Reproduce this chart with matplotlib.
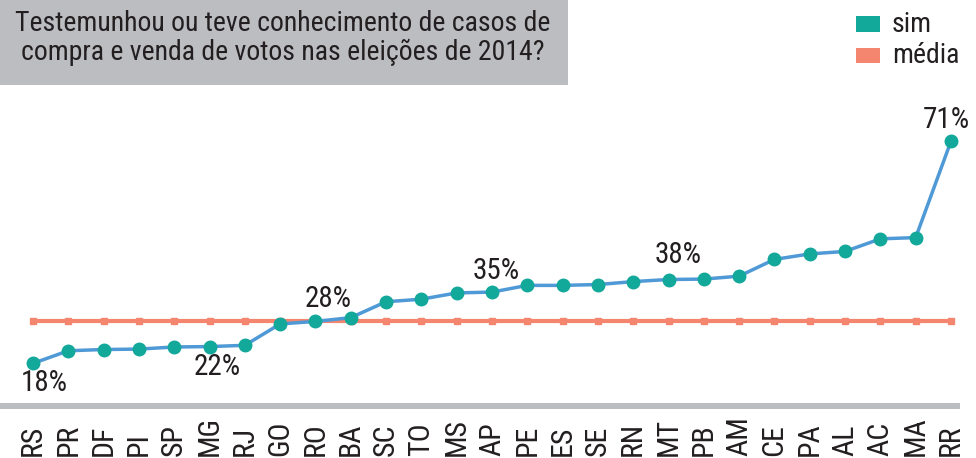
import matplotlib.pyplot as plt
import numpy as np

states = ["RS", "PR", "DF", "PI", "SP", "MG", "RJ", "GO", "RO", "BA", "SC", "TO", "MS", "AP",
          "PE", "ES", "SE", "RN", "MT", "PB", "AM", "CE", "PA", "AL", "AC", "MA", "RR"]
sim = [18, 21.0, 21.3, 21.4, 21.9, 22, 22.3, 27.4, 28, 28.9, 32.7, 33.3, 34.8, 35,
       36.6, 36.6, 36.8, 37.5, 38, 38.1, 38.8, 42.8, 44.1, 44.7, 47.7, 48.0, 71]
media = 28.2
labeled = ["RS", "MG", "RO", "AP", "MT", "RR"]

title = "Testemunhou ou teve conhecimento de casos de\ncompra e venda de votos nas eleições de 2014?"

teal = "#12a89a"
blue = "#4f9ad6"
salmon = "#f4866f"
gray = "#bcbdc1"
dark = "#231f20"
font = ["Roboto Condensed", "DejaVu Sans"]

# label offsets from the point, in pixels
lab_off = {"RS": (11, -20), "MG": (8, -20), "RO": (13, 22), "AP": (4, 21),
           "MT": (10, 25), "RR": (-5, 21)}

W, H = 976, 458
fig = plt.figure(figsize=(W / 100, H / 100), dpi=100)
ax = fig.add_axes([0, 0, 1, 1])
ax.set_axis_off()

# pixel mapping: x = 33 + 35.31*i, y_px = 438.8 - 4.192*v
k = 918 / 26
xmin = -33 / k
ax.set_xlim(xmin, xmin + W / k)
ax.set_ylim((438.8 - H) / 4.192, 438.8 / 4.192)

x = np.arange(len(states))
ax.plot(x, [media] * len(x), color=salmon, lw=3, marker="s", ms=4.5, zorder=2)
ax.plot(x, sim, color=blue, lw=2.5, zorder=3)
ax.plot(x, sim, ls="none", marker="o", ms=9, color=teal, zorder=4)

for st in labeled:
    i = states.index(st)
    ax.annotate(f"{sim[i]:.0f}%", (i, sim[i]), xytext=lab_off[st],
                textcoords="offset pixels", ha="center", va="center",
                fontsize=21, color=dark, family=font)

for i, st in enumerate(states):
    fig.text((33 + k * i) / W, 1 - 456 / H, st, rotation=90, ha="center", va="bottom",
             fontsize=21.5, color=dark, family=font)

# gray bar above the state labels
fig.patches.append(plt.Rectangle((0, 1 - 409 / H), 960 / W, 6 / H, transform=fig.transFigure,
                                 color=gray, lw=0))
# title box
fig.patches.append(plt.Rectangle((0, 1 - 85 / H), 568 / W, 85 / H, transform=fig.transFigure,
                                 color=gray, lw=0))
fig.text(283 / W, 1 - 38 / H, title, ha="center", va="center", fontsize=20,
         color=dark, family=font, linespacing=1.1)

# legend
for y0, base, lab, c in [(16, 32, "sim", teal), (48, 63, "média", salmon)]:
    fig.patches.append(plt.Rectangle((856 / W, 1 - base / H), 24 / W, (base - y0) / H,
                                     transform=fig.transFigure, color=c, lw=0))
    fig.text(892 / W, 1 - base / H, lab, ha="left", va="baseline", fontsize=20,
             color=dark, family=font)

fig.savefig("out.png", dpi=100)
